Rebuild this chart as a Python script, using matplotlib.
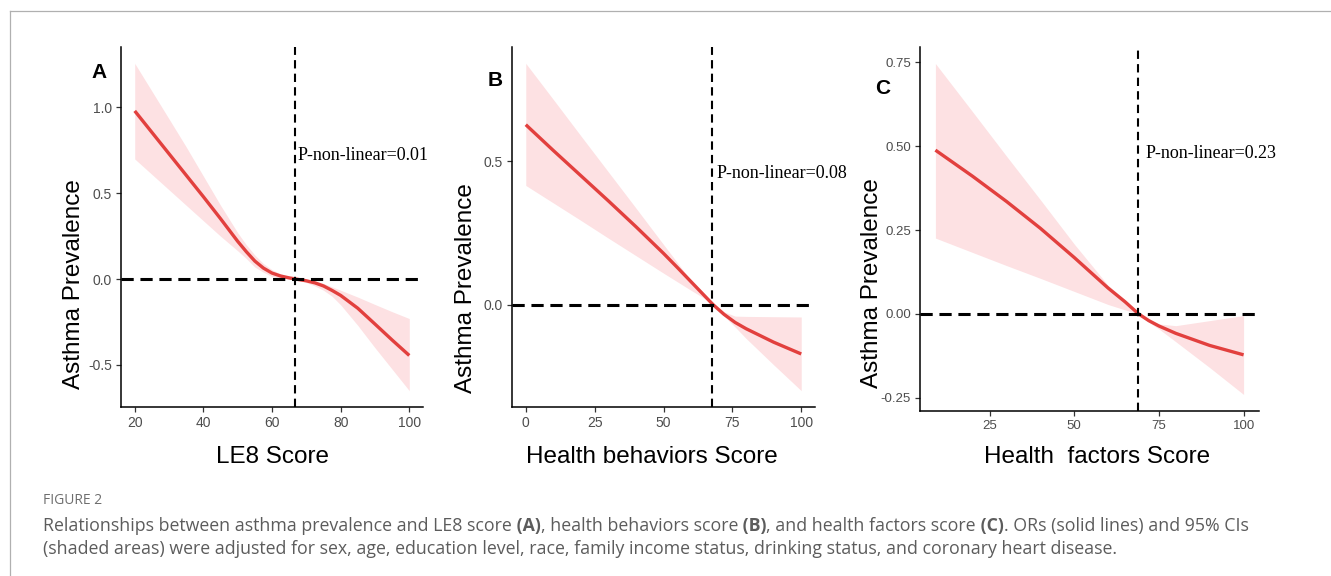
"""Restricted cubic spline curves of asthma prevalence vs LE8 scores (Figure 2)."""

import matplotlib

matplotlib.use("Agg")
import matplotlib.pyplot as plt
from matplotlib.lines import Line2D

W, H = 1331, 576

plt.rcParams["font.family"] = ["Liberation Sans", "DejaVu Sans"]

# Panel A: LE8 score
x_a = [20, 25, 30, 35, 40, 45, 50, 52.5, 55, 57.5, 60, 62.5, 65, 67,
       70, 72.5, 75, 77.5, 80, 85, 90, 95, 100]
fit_a = [0.98, 0.855, 0.73, 0.605, 0.48, 0.352, 0.22, 0.16, 0.105, 0.064, 0.035, 0.018, 0.007, 0.0,
         -0.01, -0.022, -0.04, -0.066, -0.095, -0.17, -0.262, -0.355, -0.445]
upper_a = [1.257, 1.095, 0.933, 0.77, 0.60, 0.43, 0.27, 0.20, 0.14, 0.09, 0.055, 0.03, 0.012, 0.0,
           -0.002, -0.01, -0.025, -0.045, -0.065, -0.105, -0.148, -0.19, -0.23]
lower_a = [0.70, 0.61, 0.52, 0.43, 0.34, 0.25, 0.165, 0.12, 0.07, 0.04, 0.015, 0.006, 0.002, 0.0,
           -0.02, -0.04, -0.065, -0.10, -0.15, -0.27, -0.40, -0.525, -0.65]
knot_a = 66.7

# Panel B: health behaviors score
x_b = [0, 10, 20, 30, 40, 50, 55, 60, 64, 68, 72, 76, 80, 90, 100]
fit_b = [0.628, 0.538, 0.450, 0.362, 0.272, 0.179, 0.13, 0.08, 0.04, 0.0,
         -0.034, -0.062, -0.084, -0.131, -0.172]
upper_b = [0.842, 0.716, 0.589, 0.463, 0.337, 0.21, 0.147, 0.084, 0.047, 0.0,
           -0.025, -0.04, -0.041, -0.042, -0.043]
lower_b = [0.416, 0.355, 0.294, 0.232, 0.171, 0.11, 0.08, 0.05, 0.027, 0.0,
           -0.04, -0.078, -0.118, -0.21, -0.30]
knot_b = 67.7

# Panel C: health factors score
x_c = [9, 20, 30, 40, 50, 60, 65, 69, 72, 75, 80, 90, 100]
fit_c = [0.488, 0.41, 0.335, 0.255, 0.168, 0.077, 0.036, 0.0, -0.02, -0.036, -0.058, -0.094, -0.122]
upper_c = [0.746, 0.602, 0.47, 0.34, 0.208, 0.085, 0.042, 0.0, -0.018, -0.03, -0.035, -0.02, -0.005]
lower_c = [0.226, 0.183, 0.144, 0.106, 0.067, 0.028, 0.012, 0.0, -0.025, -0.045, -0.083, -0.16, -0.24]
knot_c = 68.8

panels = [
    dict(x=x_a, fit=fit_a, lo=lower_a, hi=upper_a, knot=knot_a,
         xticks=[20, 40, 60, 80, 100], yticks=[-0.5, 0.0, 0.5, 1.0], yfmt="{:.1f}",
         letter="A", xlabel="LE8 Score", ptext="P-non-linear=0.01",
         rect=(121, 47, 423, 407), letter_xy=(99, 72), ylab_xy=(74, 284),
         xlab_xy=(272, 457), p_xy=(298, 155), tick_fs=10),
    dict(x=x_b, fit=fit_b, lo=lower_b, hi=upper_b, knot=knot_b,
         xticks=[0, 25, 50, 75, 100], yticks=[0.0, 0.5], yfmt="{:.1f}",
         letter="B", xlabel="Health behaviors Score", ptext="P-non-linear=0.08",
         rect=(512, 47, 815, 407), letter_xy=(495, 80), ylab_xy=(466, 288),
         xlab_xy=(652, 457), p_xy=(717, 173), tick_fs=10),
    dict(x=x_c, fit=fit_c, lo=lower_c, hi=upper_c, knot=knot_c,
         xticks=[25, 50, 75, 100], yticks=[-0.25, 0.0, 0.25, 0.5, 0.75], yfmt="{:.2f}",
         letter="C", xlabel="Health  factors Score", ptext="P-non-linear=0.23",
         rect=(920, 47, 1259, 411), letter_xy=(883, 88), ylab_xy=(872, 283),
         xlab_xy=(1097, 457), p_xy=(1146, 154), tick_fs=9.5),
]

RED = "#e2403e"
PINK = "#fde1e3"


def fxy(x, y):
    """Pixel position (from top-left) to figure fraction."""
    return x / W, 1 - y / H


def expand(lo, hi, frac=0.05):
    pad = (hi - lo) * frac
    return lo - pad, hi + pad


def draw_panel(fig, p):
    left, top, right, bottom = p["rect"]
    ax = fig.add_axes([left / W, 1 - bottom / H, (right - left) / W, (bottom - top) / H])
    ax.fill_between(p["x"], p["lo"], p["hi"], color=PINK, lw=0, zorder=1)
    ax.plot(p["x"], p["fit"], color=RED, lw=2.4, solid_capstyle="butt",
            solid_joinstyle="round", zorder=2)
    ax.axhline(0, color="black", lw=2.2, dashes=(4, 2.2), zorder=3)
    ax.axvline(p["knot"], color="black", lw=1.5, dashes=(4, 2.5), zorder=3)

    ax.set_xlim(*expand(min(p["x"]), max(p["x"])))
    ax.set_ylim(*expand(min(p["lo"]), max(p["hi"])))
    ax.set_xticks(p["xticks"])
    ax.set_yticks(p["yticks"])
    ax.set_yticklabels([p["yfmt"].format(v) for v in p["yticks"]])

    for side in ("top", "right"):
        ax.spines[side].set_visible(False)
    for side in ("left", "bottom"):
        ax.spines[side].set_linewidth(1.1)
    ax.tick_params(length=3.5, width=0.9, color="#333333", labelcolor="#4d4d4d",
                   labelsize=p["tick_fs"], pad=3)

    fig.text(*fxy(*p["letter_xy"]), p["letter"], fontsize=15, fontweight="bold",
             ha="center", va="center")
    fig.text(*fxy(*p["ylab_xy"]), "Asthma Prevalence", fontsize=17.5, rotation=90,
             ha="center", va="center")
    fig.text(*fxy(*p["xlab_xy"]), p["xlabel"], fontsize=17.5, ha="center", va="center")
    fig.text(*fxy(*p["p_xy"]), p["ptext"], fontsize=13, family="Liberation Serif",
             ha="left", va="center")


def rich_line(fig, x, y, parts, **kw):
    """Draw text segments one after another, bold where flagged."""
    renderer = fig.canvas.get_renderer()
    for txt, bold in parts:
        t = fig.text(*fxy(x, y), txt, fontweight="bold" if bold else "normal",
                     ha="left", va="center", **kw)
        x += t.get_window_extent(renderer=renderer).width


fig = plt.figure(figsize=(W / 100, H / 100), dpi=100)

# journal frame
fig.add_artist(Line2D([9.5 / W, 1], [1 - 10.5 / H] * 2, color="#b0b0b0", lw=0.9))
fig.add_artist(Line2D([9.5 / W] * 2, [0, 1 - 10.5 / H], color="#b0b0b0", lw=0.9))

for p in panels:
    draw_panel(fig, p)

cap_font = ["Open Sans", "DejaVu Sans"]
cap = dict(fontsize=12.8, family=cap_font, color="#5c5c5c")
fig.text(*fxy(43, 501), "FIGURE 2", fontsize=10, family=cap_font,
         color="#6e6e6e", ha="left", va="center")
rich_line(fig, 43, 526, [
    ("Relationships between asthma prevalence and LE8 score", False), (" (A)", True),
    (", health behaviors score", False), (" (B)", True),
    (", and health factors score", False), (" (C)", True),
    (". ORs (solid lines) and 95% CIs", False),
], **cap)
rich_line(fig, 43, 549, [
    ("(shaded areas) were adjusted for sex, age, education level, race, family income "
     "status, drinking status, and coronary heart disease.", False),
], **cap)

fig.savefig("out.png", dpi=100)
